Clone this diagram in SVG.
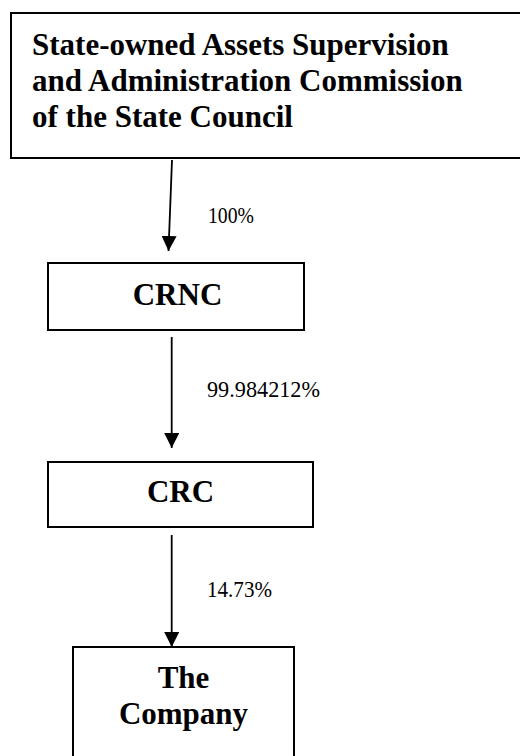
<svg xmlns="http://www.w3.org/2000/svg" width="520" height="756" viewBox="0 0 520 756">
<style>
.box{fill:#fff;stroke:#000;stroke-width:2}
.t{font-family:"Liberation Serif","Times New Roman",serif;font-weight:bold;font-size:31px;fill:#000}
.lbl{font-family:"Liberation Serif","Times New Roman",serif;font-size:24px;fill:#000}
.conn{stroke:#000;stroke-width:1.8;fill:none}
</style>
<defs>
<marker id="ah" markerUnits="userSpaceOnUse" markerWidth="15" markerHeight="15" refX="15" refY="7.5" orient="auto">
<path d="M0,0 L15,7.5 L0,15 z" fill="#000"/>
</marker>
</defs>
<rect width="520" height="756" fill="#fff"/>
<g id="sasac">
<rect class="box" x="11" y="13" width="520" height="145"/>
<text class="t" x="32" y="55">State-owned Assets Supervision</text>
<text class="t" x="32" y="91">and Administration Commission</text>
<text class="t" x="32" y="127">of the State Council</text>
</g>
<g id="crnc">
<rect class="box" x="48" y="263" width="256" height="67"/>
<text class="t" x="177.5" y="305" text-anchor="middle">CRNC</text>
</g>
<g id="crc">
<rect class="box" x="48" y="462" width="265" height="65"/>
<text class="t" x="180.5" y="502" text-anchor="middle">CRC</text>
</g>
<g id="company">
<rect class="box" x="73" y="647" width="221" height="130"/>
<text class="t" x="183.5" y="688" text-anchor="middle">The</text>
<text class="t" x="183.5" y="724" text-anchor="middle">Company</text>
</g>
<g id="connectors">
<line class="conn" x1="172" y1="160" x2="168.5" y2="251" marker-end="url(#ah)"/>
<line class="conn" x1="171.7" y1="337" x2="171.7" y2="448" marker-end="url(#ah)"/>
<line class="conn" x1="171.7" y1="535" x2="171.7" y2="647" marker-end="url(#ah)"/>
<text class="lbl" x="208" y="223" textLength="46" lengthAdjust="spacingAndGlyphs">100%</text>
<text class="lbl" x="207" y="397" textLength="113" lengthAdjust="spacingAndGlyphs">99.984212%</text>
<text class="lbl" x="207" y="597" textLength="65" lengthAdjust="spacingAndGlyphs">14.73%</text>
</g>
</svg>
